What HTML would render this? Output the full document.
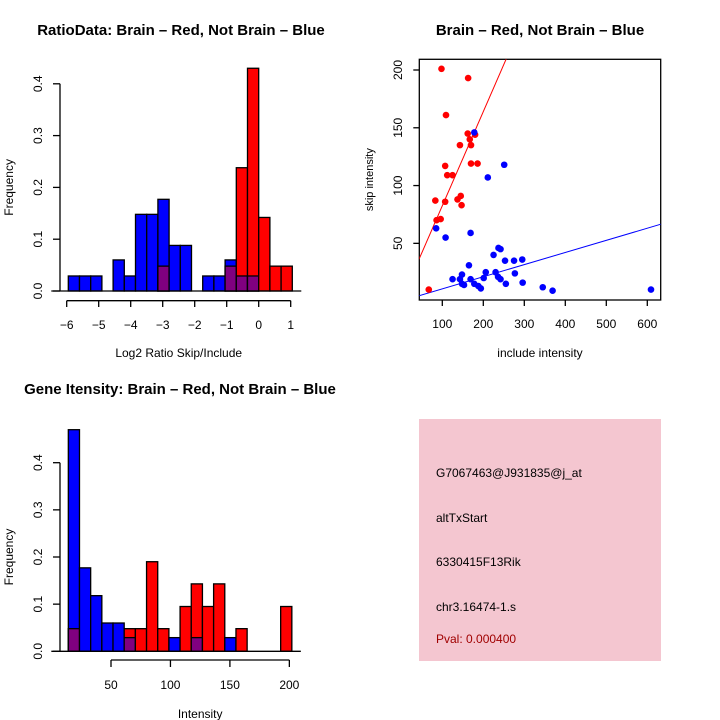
<!DOCTYPE html>
<html><head><meta charset="utf-8"><style>
body{margin:0;background:#fff}
svg{display:block;font-family:"Liberation Sans",sans-serif}
</style></head><body>
<svg id="c" width="720" height="720" viewBox="0 0 720 720">
<text x="181" y="35" text-anchor="middle" font-size="15" font-weight="bold">RatioData: Brain – Red, Not Brain – Blue</text>
<text x="540" y="35" text-anchor="middle" font-size="15" font-weight="bold">Brain – Red, Not Brain – Blue</text>
<text x="180" y="394" text-anchor="middle" font-size="15" font-weight="bold">Gene Itensity: Brain – Red, Not Brain – Blue</text>
<g id="h1"></g>
<g id="sc"></g>
<g id="h2"></g>
<g>
<rect x="419" y="419" width="242" height="242" fill="#f4c6d0"/>
<text x="436" y="477" font-size="12">G7067463@J931835@j_at</text>
<text x="436" y="522" font-size="12">altTxStart</text>
<text x="436" y="566" font-size="12">6330415F13Rik</text>
<text x="436" y="611" font-size="12">chr3.16474-1.s</text>
<text x="436" y="643" font-size="12" fill="#a00000">Pval: 0.000400</text>
</g>
</svg>
<script>
// Ratio histogram data
const h1Start = -5.95, h1Width = 0.35;
const h1Blue = [0.029,0.029,0.029,0,0.06,0.029,0.148,0.148,0.177,0.088,0.088,0,0.029,0.029,0.06,0.029,0.029,0,0,0];
const h1Red  = [0,0,0,0,0,0,0,0,0.048,0,0,0,0,0,0.048,0.238,0.43,0.142,0.048,0.048];
const h1XTicks = [-6,-5,-4,-3,-2,-1,0,1];
const h1YTicks = ["0.0","0.1","0.2","0.3","0.4"];
// Intensity histogram data
const h2Start = 14.1, h2Width = 9.4;
const h2Blue = [0.47,0.177,0.118,0.06,0.06,0.029,0,0,0,0.029,0,0.029,0,0,0.029,0,0,0,0,0];
const h2Red  = [0.048,0,0,0,0,0.048,0.048,0.19,0.048,0,0.095,0.143,0.095,0.143,0,0.048,0,0,0,0.095];
const h2XTicks = [50,100,150,200];
const h2YTicks = ["0.0","0.1","0.2","0.3","0.4"];
// Scatter data
const redX = [98,163,109,162,167,170,180,143,170,186,107,112,125,83,107,145,137,147,86,96,67];
const redY = [201,193,161,145,140,135,144,135,119,119,117,109,109,87,86,91,88,83,70,71,10];
const blueX = [178,251,211,85,108,169,237,242,225,253,275,295,165,206,230,277,148,125,143,169,201,236,242,148,153,178,188,194,255,296,345,369,609];
const blueY = [146,118,107,63,55,59,46,45,40,35,35,36,31,25,25,24,23,19,19,19,20,21,19,15,14,15,13,11,15,16,12,9,10];
const redFit = [1, 0.815];
const blueFit = [0.1, 0.105];
const scXTicks = [100,200,300,400,500,600];
const scYTicks = [50,100,150,200];

const NS = "http://www.w3.org/2000/svg";
function mk(parent, tag, attrs, txt){
  const e = document.createElementNS(NS, tag);
  for (const k in attrs) e.setAttribute(k, attrs[k]);
  if (txt !== undefined) e.textContent = txt;
  parent.appendChild(e); return e;
}

function hist(g, start, w, blue, red, xs, ys, yticks, xticks, xlab, axisY, xTickY0, xTickY1, labelY, xlabY, prefix){
  for (let i = 0; i < blue.length; i++) {
    const x0 = xs(start + i*w), x1 = xs(start + (i+1)*w);
    const b = blue[i], r = red[i];
    if (b > 0) {
      const e = mk(g, "rect", {x:x0, y:ys(b), width:x1-x0, height:ys(0)-ys(b), fill:"#0000ff", stroke:"#000", "stroke-width":1.3});
      
      
    }
    if (r > 0) {
      const e = mk(g, "rect", {x:x0, y:ys(r), width:x1-x0, height:ys(0)-ys(r), fill:"#ff0000", stroke:"#000", "stroke-width":1.3});
      
      
    }
    const m = Math.min(b, r);
    if (m > 0) {
      const e = mk(g, "rect", {x:x0, y:ys(m), width:x1-x0, height:ys(0)-ys(m), fill:"#800080", stroke:"#000", "stroke-width":1.3});
      
      
    }
  }
  const x0 = xs(start), x1 = xs(start + blue.length*w);
  const base = mk(g, "line", {x1:x0-17, x2:x1+9, y1:ys(0), y2:ys(0), stroke:"#000", "stroke-width":1.3});
  
  
  const yv = yticks.map(Number);
  const ya = mk(g, "line", {x1:60, x2:60, y1:ys(yv[0]), y2:ys(yv[yv.length-1]), stroke:"#000", "stroke-width":1.3});
  
  
  yticks.forEach((t, i) => {
    const y = ys(yv[i]);
    mk(g, "line", {x1:53, x2:60, y1:y, y2:y, stroke:"#000", "stroke-width":1.3});
    const tx = mk(g, "text", {x:0, y:0, "font-size":12, "text-anchor":"middle", transform:`translate(42,${y}) rotate(-90)`}, t);
    
    
  });
  const yl = mk(g, "text", {x:0, y:0, "font-size":12, "text-anchor":"middle", transform:`translate(13,${(ys(0)+ys(0.4))/2}) rotate(-90)`}, "Frequency");
  
  
  const xa = mk(g, "line", {x1:xs(xticks[0]), x2:xs(xticks[xticks.length-1]), y1:xTickY0, y2:xTickY0, stroke:"#000", "stroke-width":1.3});
  
  
  xticks.forEach(t => {
    const x = xs(t);
    mk(g, "line", {x1:x, x2:x, y1:xTickY0, y2:xTickY1, stroke:"#000", "stroke-width":1.3});
    const tx = mk(g, "text", {x:x, y:labelY, "font-size":12, "text-anchor":"middle"}, String(t).replace("-", "−"));
    
    
  });
  const xl = mk(g, "text", {x:(xs(xticks[0]) + xs(xticks[xticks.length-1]))/2, y:xlabY, "font-size":12, "text-anchor":"middle"}, xlab);
  
  
}

const xs1 = v => 66.7 + (v + 6) * 32;
const ys1 = v => 291 - v * 518;
hist(document.getElementById("h1"), h1Start, h1Width, h1Blue, h1Red, xs1, ys1, h1YTicks, h1XTicks,
  "Log2 Ratio Skip/Include", 291, 300.7, 307, 329, 357, "ratio");

const xs2 = v => 111 + (v - 50) * 1.189;
const ys2 = v => 651.3 - v * 471.5;
hist(document.getElementById("h2"), h2Start, h2Width, h2Blue, h2Red, xs2, ys2, h2YTicks, h2XTicks,
  "Intensity", 651.3, 660, 667, 689, 718, "intensity");

const sg = document.getElementById("sc");
const sx = v => 442.3 + (v - 100) * 0.41;
const sy = v => 70 + (200 - v) * 1.1556;
const L = 419.3, R = 660.7, T = 59.3, B = 300;
mk(sg, "defs", {}).innerHTML = `<clipPath id="scclip"><rect x="${L}" y="${T}" width="${R-L}" height="${B-T}"/></clipPath>`;
const box = mk(sg, "rect", {x:L, y:T, width:R-L, height:B-T, fill:"none", stroke:"#000", "stroke-width":1.3});


const vMin = 43, vMax = 633;
const rl = mk(sg, "line", {x1:sx(vMin), y1:sy(redFit[0]+redFit[1]*vMin), x2:sx(vMax), y2:sy(redFit[0]+redFit[1]*vMax), stroke:"#ff0000", "stroke-width":1, "clip-path":"url(#scclip)"});


const bl = mk(sg, "line", {x1:sx(vMin), y1:sy(blueFit[0]+blueFit[1]*vMin), x2:sx(vMax), y2:sy(blueFit[0]+blueFit[1]*vMax), stroke:"#0000ff", "stroke-width":1, "clip-path":"url(#scclip)"});


redX.forEach((x, i) => {
  const c = mk(sg, "circle", {cx:sx(x), cy:sy(redY[i]), r:3.3, fill:"#ff0000"});
  
  
});
blueX.forEach((x, i) => {
  const c = mk(sg, "circle", {cx:sx(x), cy:sy(blueY[i]), r:3.3, fill:"#0000ff"});
  
  
});
scXTicks.forEach(t => {
  const x = sx(t);
  mk(sg, "line", {x1:x, x2:x, y1:B, y2:B+6, stroke:"#000", "stroke-width":1.3});
  const tx = mk(sg, "text", {x:x, y:B+28, "font-size":12, "text-anchor":"middle"}, String(t));
  
  
});
scYTicks.forEach(t => {
  const y = sy(t);
  mk(sg, "line", {x1:L-6, x2:L, y1:y, y2:y, stroke:"#000", "stroke-width":1.3});
  const tx = mk(sg, "text", {x:0, y:0, "font-size":12, "text-anchor":"middle", transform:`translate(402,${y}) rotate(-90)`}, String(t));
  
  
});
const sxl = mk(sg, "text", {x:(L+R)/2, y:357, "font-size":12, "text-anchor":"middle"}, "include intensity");


const syl = mk(sg, "text", {x:0, y:0, "font-size":11, "text-anchor":"middle", transform:`translate(373,${(T+B)/2}) rotate(-90)`}, "skip intensity");


</script>
</body></html>
